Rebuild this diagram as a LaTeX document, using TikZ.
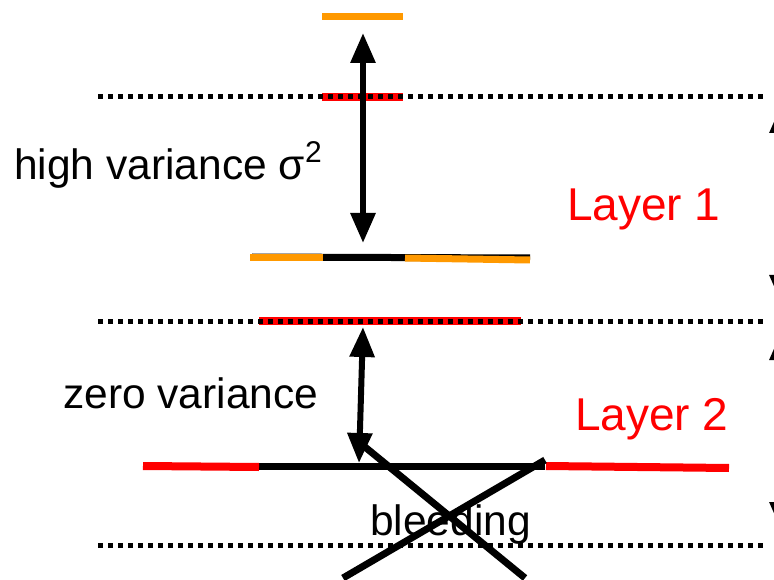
\documentclass[tikz,border=0pt]{standalone}
\usepackage{fontspec}
\setmainfont{Liberation Sans}
\usetikzlibrary{arrows.meta}
\definecolor{myorange}{RGB}{255,153,0}
\definecolor{myred}{RGB}{255,0,0}
\tikzset{
  dotline/.style={line width=5pt, dash pattern=on 5pt off 5pt},
  orangeseg/.style={myorange, line width=7pt},
  redseg/.style={myred, line width=8pt},
  blackseg/.style={black, line width=7pt},
  dblarrow/.style={line width=6pt, {Triangle[width=24pt,length=30pt]}-{Triangle[width=24pt,length=30pt]}},
  crossline/.style={line width=7pt},
  lbl/.style={font=\fontsize{42.5pt}{48pt}\selectfont, inner sep=0pt, anchor=base west},
  layerlbl/.style={font=\fontsize{46pt}{52pt}\selectfont, text=myred, inner sep=0pt, anchor=base west}
}
\begin{document}
\begin{tikzpicture}[x=1pt,y=-1pt]
\useasboundingbox (0,0) rectangle (774,580);
% top level
\draw[orangeseg] (322,17) -- (403,17);
% dotted line 1 with red segment
\draw[redseg] (322,97) -- (403,97);
\draw[dotline] (98,97) -- (764,97);
% arrow 1
\coordinate (a1t) at (363,33);
\coordinate (a1b) at (363,243);
\draw[dblarrow] (a1t) -- (a1b);
% second level
\draw[blackseg] (252,257) -- (530,258);
\draw[orangeseg] (250,258) -- (323,258);
\draw[orangeseg] (405,258) -- (530,260);
% dotted line 2 with red segment
\draw[redseg] (259,321) -- (521,321);
\draw[dotline] (98,321) -- (764,321);
% arrow 2
\coordinate (a2t) at (363,327);
\coordinate (a2b) at (359,463);
\draw[dblarrow] (a2t) -- (a2b);
% third level
\draw[blackseg] (145,466) -- (545,466);
\draw[redseg] (143,466) -- (259,467);
\draw[redseg] (546,466) -- (729,468);
% dotted line 3
\draw[dotline] (98,545) -- (764,545);
% texts
\node[lbl] (hv) at (14,180) {high variance σ\raisebox{0.42em}{\fontsize{30pt}{32pt}\selectfont 2}};
\node[lbl] (zv) at (63,408) {zero variance};
\node[layerlbl] (l1) at (567,221) {Layer 1};
\node[layerlbl] (l2) at (575,430) {Layer 2};
\node[lbl] (bl) at (370,535) {bleeding};
% cross
\draw[crossline] (365,447) -- (525,578);
\draw[crossline] (545,460) -- (343,578);
% right edge arrows
\coordinate (r1t) at (782,103);
\coordinate (r1b) at (782,305);
\coordinate (r2t) at (782,330);
\coordinate (r2b) at (782,532);
\draw[dblarrow] (r1t) -- (r1b);
\draw[dblarrow] (r2t) -- (r2b);
\end{tikzpicture}
\end{document}
